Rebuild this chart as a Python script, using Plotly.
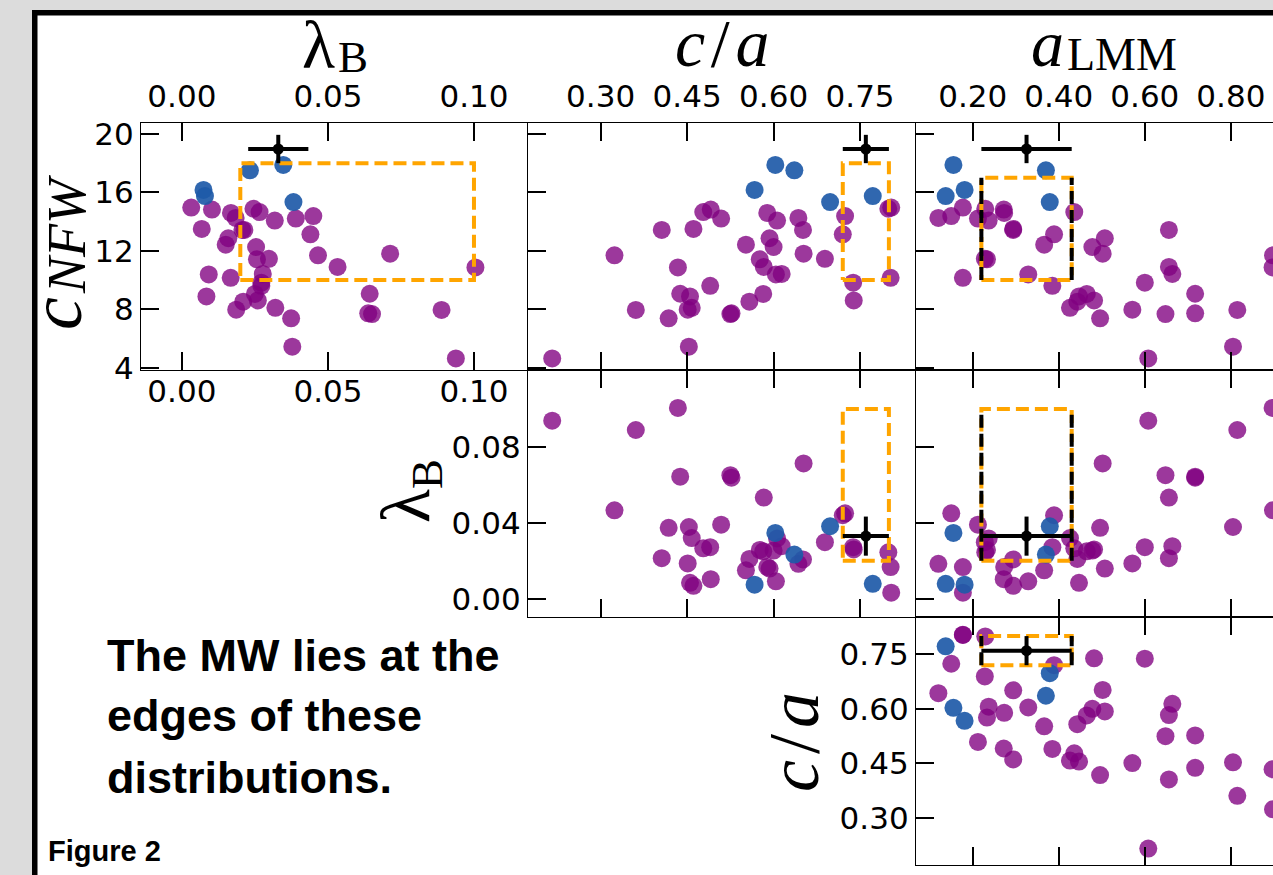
import plotly.graph_objects as go

W, H = 1273, 875

# ---------------- data ----------------
# purple population
purple_c_nfw = [4.63, 5.44, 7.38, 7.67, 7.72, 7.95, 7.97, 8.10, 8.52, 8.60,
                8.88, 9.06, 9.05, 9.60, 9.82, 10.15, 10.38, 10.42, 10.86, 10.90,
                11.42, 11.45, 11.69, 11.80, 12.26, 12.42, 12.86, 13.13, 13.43, 13.50,
                13.43, 14.07, 14.21, 14.25, 14.38, 14.65, 14.59, 14.82, 14.88, 14.96]
purple_lambda_b = [0.0938, 0.0378, 0.0374, 0.0651, 0.0638, 0.0889, 0.0186, 0.0320, 0.0210, 0.0260,
                   0.0084, 0.0643, 0.0250, 0.0272, 0.0272, 0.0167, 0.0092, 0.0277, 0.1005, 0.0533,
                   0.0257, 0.0298, 0.0466, 0.0713, 0.0254, 0.0150, 0.0159, 0.0440, 0.0214, 0.0068,
                   0.0207, 0.0318, 0.0390, 0.0184, 0.0450, 0.0266, 0.0168, 0.0103, 0.0245, 0.0032]
purple_c_over_a = [0.216, 0.453, 0.418, 0.525, 0.527, 0.361, 0.451, 0.458, 0.558, 0.739,
                   0.455, 0.438, 0.582, 0.490, 0.738, 0.803, 0.604, 0.614, 0.434, 0.583,
                   0.576, 0.689, 0.324, 0.652, 0.600, 0.552, 0.593, 0.720, 0.406, 0.461,
                   0.651, 0.606, 0.509, 0.643, 0.724, 0.478, 0.589, 0.491, 0.799, 0.804]
purple_a_lmm = [0.608, 0.805, 0.496, 0.648, 0.717, 0.815, 0.571, 0.426, 0.443, 0.482,
                0.447, 0.717, 0.465, 0.385, 0.600, 0.177, 0.329, 0.664, 0.897, 0.656,
                0.233, 0.228, 0.898, 0.502, 0.478, 0.366, 0.507, 0.389, 0.656, 0.294,
                0.294, 0.237, 0.212, 0.120, 0.150, 0.436, 0.273, 0.272, 0.229, 0.177]

# blue population
blue_c_nfw = [17.88, 17.51, 16.17, 15.75, 15.34]
blue_lambda_b = [0.0347, 0.0233, 0.0074, 0.0079, 0.0382]
blue_c_over_a = [0.603, 0.636, 0.567, 0.772, 0.698]
blue_a_lmm = [0.155, 0.370, 0.181, 0.137, 0.379]

# Milky Way (value, error)
mw_c_nfw, mw_c_nfw_err = 18.97, 0.97
mw_lambda_b, mw_lambda_b_err = 0.033, 0.0103
mw_c_over_a, mw_c_over_a_err = 0.760, 0.040
mw_a_lmm, mw_a_lmm_err = 0.325, 0.105

# selection boxes
box_c_nfw = [10, 18]
box_c_nfw_lmm = [10, 17]
box_lambda_b = [0.02, 0.10]
box_c_over_a = [0.72, 0.80]
box_a_lmm = [0.22, 0.43]

# ticks
ticks_c_nfw = [4, 8, 12, 16, 20]
ticks_lambda_b_x = [0.00, 0.05, 0.10]
ticks_lambda_b_y = [0.00, 0.04, 0.08]
ticks_c_over_a = [0.30, 0.45, 0.60, 0.75]
ticks_a_lmm = [0.20, 0.40, 0.60, 0.80]

# ---------------- styling ----------------
PURPLE = "#800080"
BLUE = "rgb(30,90,168)"
ORANGE = "#FFA500"
TICKFONT = dict(family="DejaVu Sans", size=31, color="black")
MATHFONT = "Liberation Serif, DejaVu Serif, serif"
BOLDSANS = "Liberation Sans, Arial, sans-serif"

variables = {
    "c": dict(p=purple_c_nfw, b=blue_c_nfw, mw=mw_c_nfw, err=mw_c_nfw_err),
    "lam": dict(p=purple_lambda_b, b=blue_lambda_b, mw=mw_lambda_b, err=mw_lambda_b_err,
                box=box_lambda_b),
    "ca": dict(p=purple_c_over_a, b=blue_c_over_a, mw=mw_c_over_a, err=mw_c_over_a_err,
               box=box_c_over_a),
    "a": dict(p=purple_a_lmm, b=blue_a_lmm, mw=mw_a_lmm, err=mw_a_lmm_err,
              box=box_a_lmm),
}
x_ranges = {"lam": [-0.0140, 0.1185], "ca": [0.174, 0.847], "a": [0.068, 0.898]}
y_ranges = {"c": [3.84, 20.75], "lam": [-0.0096, 0.1205], "ca": [0.1708, 0.8525]}
x_ticks = {"lam": ticks_lambda_b_x, "ca": ticks_c_over_a, "a": ticks_a_lmm}
y_ticks = {"c": ticks_c_nfw, "lam": ticks_lambda_b_y, "ca": ticks_c_over_a}
fmt = {"lam": "{:.2f}", "ca": "{:.2f}", "a": "{:.2f}", "c": "{:d}"}

col_px = {1: (141, 528), 2: (528, 916), 3: (916, 1273)}
row_px = {1: (123, 370), 2: (370, 617), 3: (617, 865)}

# (row, col, xvar, yvar)
panels = [(1, 1, "lam", "c"), (1, 2, "ca", "c"), (1, 3, "a", "c"),
          (2, 2, "ca", "lam"), (2, 3, "a", "lam"), (3, 3, "a", "ca")]

fig = go.Figure()
layout = {}


def ybox(yv, col):
    if yv == "c":
        return box_c_nfw_lmm if col == 3 else box_c_nfw
    return variables[yv]["box"]


for k, (row, col, xv, yv) in enumerate(panels, start=1):
    xname = "x" if k == 1 else f"x{k}"
    yname = "y" if k == 1 else f"y{k}"
    X, Y = variables[xv], variables[yv]
    fig.add_trace(go.Scatter(x=X["p"], y=Y["p"], mode="markers", xaxis=xname, yaxis=yname,
                             marker=dict(color=PURPLE, size=18, opacity=0.78, line=dict(width=0)),
                             showlegend=False, hoverinfo="skip"))
    fig.add_trace(go.Scatter(x=X["b"], y=Y["b"], mode="markers", xaxis=xname, yaxis=yname,
                             marker=dict(color=BLUE, size=18, opacity=0.92, line=dict(width=0)),
                             showlegend=False, hoverinfo="skip"))
    bx = X["box"]
    by = ybox(yv, col)
    fig.add_trace(go.Scatter(x=[bx[0], bx[1], bx[1], bx[0], bx[0]],
                             y=[by[0], by[0], by[1], by[1], by[0]],
                             mode="lines", xaxis=xname, yaxis=yname,
                             line=dict(color=ORANGE, width=4, dash="13px,6px"),
                             showlegend=False, hoverinfo="skip"))
    if xv == "a":
        fig.add_trace(go.Scatter(x=[bx[0], bx[0], None, bx[1], bx[1]],
                                 y=[by[0], by[1], None, by[0], by[1]],
                                 mode="lines", xaxis=xname, yaxis=yname,
                                 line=dict(color="black", width=4, dash="13px,6px"),
                                 showlegend=False, hoverinfo="skip"))
    fig.add_trace(go.Scatter(x=[X["mw"]], y=[Y["mw"]], mode="markers", xaxis=xname, yaxis=yname,
                             marker=dict(color="black", size=11),
                             error_x=dict(type="data", array=[X["err"]], color="black", thickness=4, width=0),
                             error_y=dict(type="data", array=[Y["err"]], color="black", thickness=4, width=0),
                             showlegend=False, hoverinfo="skip"))

    c0, c1 = col_px[col]
    r0, r1 = row_px[row]
    xt = x_ticks[xv]
    yt = y_ticks[yv]
    layout["xaxis" if k == 1 else f"xaxis{k}"] = dict(
        domain=[c0 / W, c1 / W], range=x_ranges[xv], anchor=yname,
        showline=True, linecolor="black", linewidth=1.3, mirror="ticks",
        ticks="inside", ticklen=18, tickwidth=1.5, tickcolor="black",
        tickvals=xt, ticktext=[fmt[xv].format(t) for t in xt],
        showticklabels=(row == 1), side="top", tickfont=TICKFONT, ticklabelstandoff=2,
        showgrid=False, zeroline=False, fixedrange=True, automargin=False)
    layout["yaxis" if k == 1 else f"yaxis{k}"] = dict(
        domain=[1 - r1 / H, 1 - r0 / H], range=y_ranges[yv], anchor=xname,
        showline=True, linecolor="black", linewidth=1.3, mirror=False,
        ticks="inside", ticklen=18, tickwidth=1.5, tickcolor="black",
        tickvals=yt, ticktext=[fmt[yv].format(t) for t in yt],
        showticklabels=(row == col), tickfont=TICKFONT,
        showgrid=False, zeroline=False, fixedrange=True, automargin=False)

# extra bottom tick labels for the first panel
fig.add_trace(go.Scatter(x=[], y=[], xaxis="x7", yaxis="y", showlegend=False, hoverinfo="skip"))
layout["xaxis7"] = dict(overlaying="x", anchor="y", side="bottom", range=x_ranges["lam"],
                        domain=[col_px[1][0] / W, col_px[1][1] / W],
                        tickvals=ticks_lambda_b_x, ticktext=[f"{t:.2f}" for t in ticks_lambda_b_x],
                        ticks="", showline=False, tickfont=TICKFONT, showgrid=False,
                        zeroline=False, fixedrange=True, automargin=False)


def ann(text, px, py, size, angle=0, family=MATHFONT, xanchor="center"):
    return dict(text=text, x=px / W, y=1 - py / H, xref="paper", yref="paper",
                showarrow=False, textangle=angle, xanchor=xanchor, yanchor="middle",
                font=dict(family=family, size=size, color="black"))


HS = "\u200a"
annotations = [
    ann("λ", 318, 45, 68),
    ann("B", 353, 57, 45),
    ann(f"<i>c</i>{HS}/{HS}<i>a</i>", 722, 43, 68),
    ann("<i>a</i>", 1047, 44, 66),
    ann("LMM", 1122, 55, 46),
    ann("<i>c</i>", 56, 314, 74, angle=-90),
    ann("<i>NFW</i>", 67, 234, 54, angle=-90),
    ann("<span style='font-size:70px'>λ</span><sub>B</sub>", 409, 491, 64, angle=-90),
    ann(f"<i>c</i>{HS}/{HS}<i>a</i>", 794, 742, 72, angle=-90),
    ann("<b>The MW lies at the</b>", 105, 655, 45, family=BOLDSANS, xanchor="left"),
    ann("<b>edges of these</b>", 105, 715, 45, family=BOLDSANS, xanchor="left"),
    ann("<b>distributions.</b>", 105, 777, 45, family=BOLDSANS, xanchor="left"),
    ann("<b>Figure 2</b>", 46, 851, 29, family=BOLDSANS, xanchor="left"),
]

shapes = [dict(type="rect", xref="paper", yref="paper",
               x0=34.75 / W, x1=1.1, y0=1 - 12.75 / H, y1=-0.1,
               line=dict(color="black", width=5.5), fillcolor="white", layer="below")]

fig.update_layout(width=W, height=H, autosize=False, margin=dict(l=0, r=0, t=0, b=0, pad=0),
                  paper_bgcolor="#dcdcdc", plot_bgcolor="white",
                  annotations=annotations, shapes=shapes, **layout)

fig.write_html("out.html", config={"displayModeBar": False, "responsive": False},
               post_script="document.body.style.margin='0';document.body.style.overflow='hidden';")
